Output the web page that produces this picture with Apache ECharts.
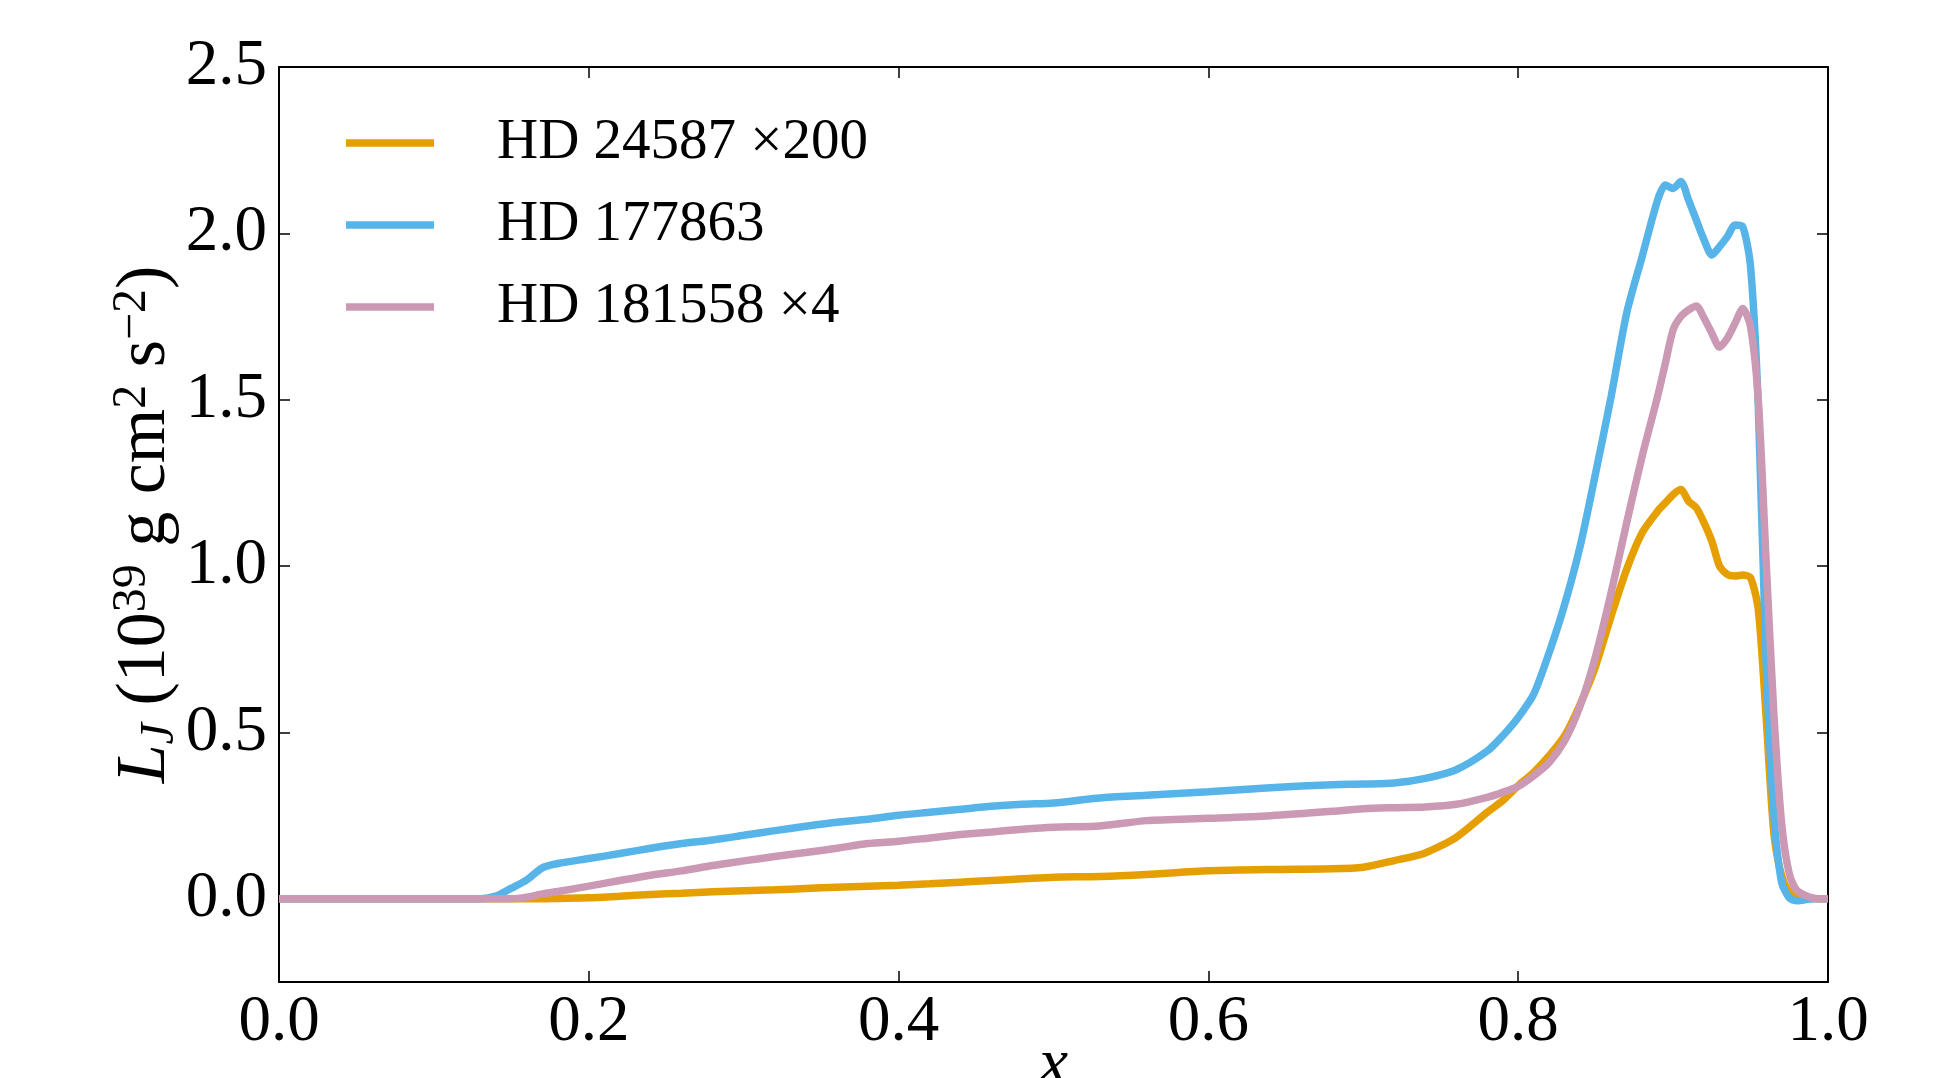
<!DOCTYPE html>
<html>
<head>
<meta charset="utf-8">
<script src="https://cdn.jsdelivr.net/npm/echarts@6/dist/echarts.min.js"></script>
<style>
html, body { margin: 0; padding: 0; background: #fff; }
#chart { width: 1938px; height: 1078px; }
</style>
</head>
<body>
<div id="chart"></div>
<script>
// sample positions along x, shared by the three curves
const xs = [0, 0.05, 0.10, 0.13, 0.14, 0.15, 0.16, 0.17, 0.18,
  0.20, 0.22, 0.24, 0.26, 0.28, 0.30, 0.32, 0.34, 0.36, 0.38, 0.40, 0.42, 0.44, 0.46, 0.48, 0.50,
  0.53, 0.56, 0.60, 0.64, 0.68, 0.70, 0.72, 0.74, 0.76, 0.78,
  0.79, 0.80, 0.81, 0.82, 0.83, 0.84, 0.85, 0.86, 0.87, 0.88, 0.89,
  0.895, 0.90, 0.905, 0.91, 0.915, 0.92, 0.925, 0.93, 0.935, 0.94, 0.945, 0.95, 0.955, 0.96, 0.965, 0.97, 0.975, 0.98,
  0.99, 1.0];

// HD 24587 (x200)
const hd24587 = [0, 0, 0, 0, 0, 0, 0, 0, 0.001,
  0.003, 0.008, 0.013, 0.017, 0.021, 0.024, 0.027, 0.031, 0.035, 0.038, 0.041, 0.045, 0.050, 0.055, 0.060, 0.065,
  0.067, 0.073, 0.084, 0.088, 0.090, 0.095, 0.115, 0.138, 0.185, 0.26,
  0.295, 0.34, 0.38, 0.43, 0.49, 0.585, 0.70, 0.85, 0.99, 1.10, 1.165,
  1.19, 1.215, 1.23, 1.195, 1.175, 1.13, 1.075, 1.00, 0.975, 0.97, 0.973, 0.965, 0.87, 0.55, 0.20, 0.07, 0.02, 0.006,
  0.001, 0];

// HD 177863
const hd177863 = [0, 0, 0, 0, 0.008, 0.032, 0.057, 0.093, 0.106,
  0.121, 0.136, 0.152, 0.166, 0.177, 0.191, 0.205, 0.218, 0.230, 0.239, 0.251, 0.260, 0.269, 0.278, 0.284, 0.288,
  0.303, 0.311, 0.322, 0.334, 0.343, 0.345, 0.348, 0.362, 0.388, 0.444,
  0.49, 0.545, 0.615, 0.74, 0.885, 1.06, 1.28, 1.51, 1.76, 1.93, 2.10,
  2.145, 2.135, 2.156, 2.10, 2.04, 1.98, 1.935, 1.96, 1.99, 2.025, 2.02, 1.90, 1.48, 0.72, 0.257, 0.05, 0.003, -0.006,
  0, 0];

// HD 181558 (x4)
const hd181558 = [0, 0, 0, 0, 0, 0, 0.005, 0.015, 0.022,
  0.038, 0.055, 0.071, 0.084, 0.100, 0.114, 0.127, 0.139, 0.152, 0.166, 0.173, 0.183, 0.193, 0.201, 0.209, 0.215,
  0.219, 0.235, 0.242, 0.250, 0.263, 0.271, 0.274, 0.276, 0.284, 0.305,
  0.32, 0.338, 0.37, 0.41, 0.475, 0.58, 0.73, 0.92, 1.13, 1.33, 1.51,
  1.61, 1.71, 1.75, 1.77, 1.782, 1.745, 1.70, 1.658, 1.685, 1.73, 1.774, 1.72, 1.50, 1.02, 0.56, 0.23, 0.075, 0.025,
  0.003, 0];

const seriesNames = ['HD 24587 ×200', 'HD 177863', 'HD 181558 ×4'];
const seriesColors = ['#E69F00', '#56B4E9', '#CC99B4'];
const yTicks = [0, 0.5, 1.0, 1.5, 2.0, 2.5];

const FONT = '"Liberation Serif", "DejaVu Serif", serif';

const spine = { show: true, onZero: false, lineStyle: { color: '#000', width: 2 } };
const ticks = { show: true, inside: true, length: 11, lineStyle: { color: '#000', width: 1.5 } };
const labelStyle = { color: '#000', fontSize: 65, fontFamily: FONT, formatter: v => v.toFixed(1) };

const chart = echarts.init(document.getElementById('chart'));

chart.setOption({
  animation: false,
  backgroundColor: '#fff',
  grid: { left: 279, right: 110, top: 67, bottom: 96, outerBoundsMode: 'none' },
  legend: {
    orient: 'vertical',
    left: 341,
    top: 108,
    itemWidth: 88,
    itemHeight: 7.5,
    itemGap: 22,
    icon: 'rect',
    data: seriesNames,
    textStyle: { fontSize: 57, lineHeight: 60, fontFamily: FONT, color: '#000', padding: [0, 0, 0, 58] }
  },
  xAxis: [
    {
      type: 'value', min: 0, max: 1, interval: 0.2, position: 'bottom',
      axisLine: spine, axisTick: ticks, splitLine: { show: false },
      axisLabel: Object.assign({ margin: 8 }, labelStyle),
      name: 'x', nameLocation: 'middle', nameGap: 51, nameMoveOverlap: false,
      nameTextStyle: { fontStyle: 'italic', fontSize: 66, fontFamily: FONT, color: '#000' }
    },
    {
      type: 'value', min: 0, max: 1, interval: 0.2, position: 'top',
      axisLine: spine, axisTick: ticks, splitLine: { show: false }, axisLabel: { show: false }
    }
  ],
  yAxis: [
    {
      type: 'value', min: -0.25, max: 2.5, position: 'left',
      axisLine: spine, axisTick: Object.assign({ customValues: yTicks }, ticks), splitLine: { show: false },
      axisLabel: Object.assign({ margin: 12, customValues: yTicks }, labelStyle),
      name: '{it|L}{sub|J}{n| (10}{sup|39}{n| g cm}{sup|2}{n| s}{sup|−2}{n|)}',
      nameLocation: 'middle', nameRotate: 90, nameGap: 95, nameMoveOverlap: false,
      nameTextStyle: {
        color: '#000',
        rich: {
          it: { fontStyle: 'italic', fontSize: 70, fontFamily: FONT, color: '#000', lineHeight: 76 },
          sub: { fontStyle: 'italic', fontSize: 48, fontFamily: FONT, color: '#000', verticalAlign: 'bottom' },
          n: { fontSize: 70, fontFamily: FONT, color: '#000', lineHeight: 76 },
          sup: { fontSize: 48, fontFamily: FONT, color: '#000', verticalAlign: 'top' }
        }
      }
    },
    {
      type: 'value', min: -0.25, max: 2.5, position: 'right',
      axisLine: spine, axisTick: Object.assign({ customValues: yTicks }, ticks), splitLine: { show: false },
      axisLabel: { show: false }
    }
  ],
  series: [hd24587, hd177863, hd181558].map((ys, k) => ({
    name: seriesNames[k],
    type: 'line',
    xAxisIndex: 0,
    yAxisIndex: 0,
    showSymbol: false,
    smooth: 0.25,
    color: seriesColors[k],
    lineStyle: { width: 7.5, color: seriesColors[k] },
    data: xs.map((x, i) => [x, ys[i]])
  }))
});
</script>
</body>
</html>
